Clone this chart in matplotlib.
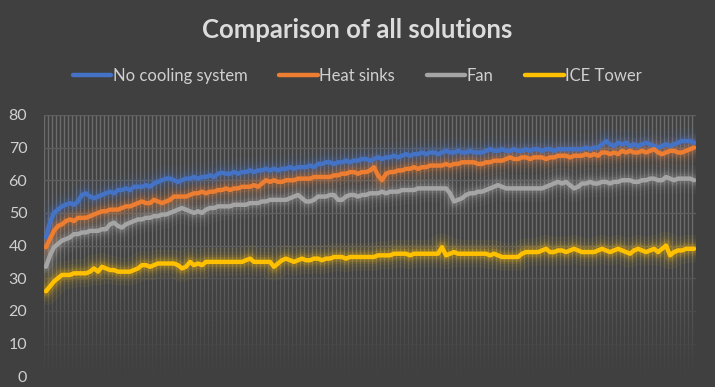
import numpy as np
import matplotlib.pyplot as plt

# temperature readings, one per sample
no_cooling = [
    42.5, 47, 50, 51, 52, 52.5, 53, 52.5, 53.5, 55.5,
    56, 55, 54.5, 55, 55.5, 56, 56.5, 56, 57, 57,
    57.5, 57, 58, 58, 58, 58.5, 58, 59, 59.5, 60,
    60.5, 60.5, 60, 59.5, 60, 60.5, 60.5, 61, 60.5, 61,
    61, 61.5, 61, 62, 62.3, 62, 62, 62.5, 62, 62.5,
    62.5, 63, 62.5, 63, 63, 63.5, 63, 63.5, 63, 63.5,
    63.5, 64, 63.5, 64, 64, 64, 64.5, 64, 65, 65,
    65.5, 65.5, 65, 65.5, 65.5, 66, 65.5, 66, 66, 66.5,
    66.5, 66, 66.5, 67, 66.5, 67, 67, 67.5, 67, 67.5,
    68, 67.5, 68, 68, 68.5, 68, 68.5, 68.5, 68, 68.5,
    69, 68.5, 68.5, 69, 68.5, 68.5, 69, 68.5, 68.5, 68.5,
    69, 69.5, 69, 69, 69.5, 69, 69, 69.5, 69, 69,
    69.5, 69, 69.5, 69.5, 69, 69.5, 69.5, 69, 69.5, 69.5,
    69.5, 69.5, 69.5, 69.5, 69.5, 70, 69.5, 70, 70, 71,
    72, 71, 70.5, 71.5, 71, 71.5, 70.5, 71, 70.5, 71,
    71.5, 71, 70.5, 70, 70.5, 71, 70.5, 71, 71.5, 72,
    72, 72, 71.5,
]
heat_sinks = [
    39.5, 42, 44.5, 46, 46.5, 47.5, 48, 47.5, 48.5, 48.5,
    48.5, 49, 49.5, 50, 50.5, 50.5, 51, 51, 51, 51.5,
    52, 52, 52.5, 53, 53.5, 53, 53, 54, 53.5, 53,
    53.5, 54, 55, 55, 55, 55, 55.5, 56, 56, 56.5,
    56, 56.5, 56.5, 57, 57, 57.5, 57, 57.5, 57.5, 58,
    58, 58, 58.5, 58, 59, 60, 59.5, 60, 59.5, 59.5,
    60, 60, 60, 60.5, 60.5, 60.5, 60.5, 61, 61, 61,
    61, 61, 61.5, 61.5, 62, 62, 62.5, 62.5, 62, 62.5,
    62.5, 63, 64, 61.5, 60, 62, 62.5, 62.5, 63, 63,
    63.5, 63.5, 64, 63.5, 64, 64, 64.5, 64.5, 64.5, 64.5,
    65, 64.5, 65, 65, 65.5, 65.5, 65.5, 65.5, 65, 65,
    65.5, 65.5, 66, 66, 66, 66.5, 67, 66.5, 66.5, 67,
    67, 66.5, 67, 67, 67, 66.5, 67, 67, 67.5, 67.5,
    67.5, 67, 67.5, 67.5, 67.5, 68, 67.5, 68, 67.5, 68.5,
    68.5, 68, 68.5, 68, 69, 68.5, 69, 68.5, 68.5, 69,
    68.5, 69, 69.5, 68.5, 68, 68.5, 69, 69, 68.5, 68.5,
    69, 69.5, 70,
]
fan = [
    33.5, 37, 39.5, 40.5, 41.5, 42, 42.5, 43.5, 43.5, 44,
    44, 44.5, 44.5, 44.5, 45, 45, 46.5, 47, 46, 45.5,
    46.5, 47, 47.5, 48, 48, 48.5, 48.5, 49, 49, 49.5,
    49.5, 50, 50.5, 51, 51.5, 51, 50.5, 50, 50.5, 50,
    51, 51.5, 51.5, 52, 52, 52, 52, 52.5, 52.5, 52.5,
    52.5, 53, 53, 53, 53.5, 53.5, 54, 54, 54, 54,
    54, 54.5, 55, 55.5, 54.5, 53.5, 53.5, 54, 55, 55,
    55, 55.5, 55.5, 54, 54, 55, 55.5, 55.5, 55, 55.5,
    55.5, 56, 56, 56, 56.5, 56, 56.5, 56.5, 56.5, 57,
    57, 57, 57, 57.5, 57.5, 57.5, 57.5, 57.5, 57.5, 57.5,
    57.5, 56, 53.5, 54, 54.5, 55.5, 56, 56, 56.5, 56.5,
    57, 57.5, 58, 58.5, 58, 57.5, 57.5, 57.5, 57.5, 57.5,
    57.5, 57.5, 57.5, 57.5, 57.5, 58, 58.5, 59, 59.5, 59,
    59.5, 58.5, 57.5, 58, 59, 59, 59.5, 59, 59, 59.5,
    59.5, 59, 59.5, 59.5, 60, 60, 60, 59.5, 59.5, 60,
    60, 60.5, 60.5, 60, 60, 61, 60.5, 60, 60.5, 60.5,
    60.5, 60.5, 60,
]
ice_tower = [
    26, 27.5, 29, 30, 31, 31, 31, 31.5, 31.5, 31.5,
    31.5, 32, 33, 32, 33.5, 33, 32.5, 32.5, 32, 32,
    32, 32, 32.5, 33, 34, 34, 33.5, 34, 34.5, 34.5,
    34.5, 34.5, 34.5, 34, 33, 33.5, 35, 34, 34.5, 34,
    35, 35, 35, 35, 35, 35, 35, 35, 35, 35,
    35.5, 36, 35, 35, 35, 35, 35, 33.5, 34.5, 35.5,
    36, 35.5, 35, 35.5, 36, 35.5, 35.5, 36, 36, 35.5,
    36, 36, 36.5, 36.5, 36.5, 36, 36.5, 36.5, 36.5, 36.5,
    36.5, 36.5, 36.5, 37, 37, 37, 37, 37.5, 37.5, 37.5,
    37.5, 37, 37.5, 37.5, 37.5, 37.5, 37.5, 37.5, 37.5, 39.5,
    37, 37.5, 38, 37.5, 37.5, 37.5, 37.5, 37.5, 37.5, 37.5,
    37.5, 37, 37.5, 37, 36.5, 36.5, 36.5, 36.5, 36.5, 37.5,
    38, 38, 38, 38, 38.5, 39, 38, 38, 38.5, 38.5,
    38, 38.5, 39, 38.5, 38, 38, 38, 38, 38.5, 39,
    38.5, 38, 38.5, 39, 38.5, 38, 37.5, 38.5, 39, 38.5,
    38, 38.5, 39, 38, 39, 40, 37, 38, 38.5, 38.5,
    39, 39, 39,
]
labels = ['No cooling system', 'Heat sinks', 'Fan', 'ICE Tower']
colors = ['#4472C4', '#ED7D31', '#A5A5A5', '#FFC000']
yticks = [0, 10, 20, 30, 40, 50, 60, 70, 80]

bg = '#404040'
plt.rcParams['font.family'] = ['Lato', 'DejaVu Sans']

fig = plt.figure(figsize=(7.15, 3.87), dpi=100, facecolor=bg)
ax = fig.add_axes([0.0615, 0.028, 0.912, 0.675], facecolor=bg)

n = len(no_cooling)
x = np.arange(n)

# dense category gridlines, fading out toward the bottom
ax.vlines(x - 0.5, 0, 80, color='#6c6c6c', lw=1.0, zorder=1)
for v in yticks:
    ax.axhline(v, color='#5e5e5e', lw=1.0, zorder=1.5)
fade = np.zeros((100, 2, 4))
fade[..., :3] = np.array([64, 64, 64]) / 255
fade[..., 3] = np.linspace(1, 0, 100)[:, None] ** 0.8
ax.imshow(fade, extent=[-0.5, n - 0.5, 0, 38], origin='lower',
          aspect='auto', zorder=2, interpolation='bilinear')

series = [no_cooling, heat_sinks, fan, ice_tower]
for s, c, lab in zip(series, colors, labels):
    for w, a in [(20, 0.05), (14, 0.07), (10, 0.1), (7, 0.16)]:
        ax.plot(x, s, color=c, lw=w, alpha=a, solid_capstyle='round', zorder=3)
    ax.plot(x, s, color=c, lw=3.2, label=lab, solid_capstyle='round', zorder=4)

ax.set_xlim(-0.5, n - 0.5)
ax.set_ylim(0, 80)
ax.set_yticks(yticks)
ax.set_xticks([])
ax.tick_params(axis='y', length=0, pad=12, labelsize=11.5, labelcolor='#d0d0d0')
for sp in ax.spines.values():
    sp.set_visible(False)

fig.text(0.5, 0.922, 'Comparison of all solutions', ha='center', va='center',
         fontsize=18.5, fontweight='bold', color='#dcdcdc')
fig.legend(loc='center', bbox_to_anchor=(0.5, 0.804), ncol=4, frameon=False,
           fontsize=12, labelcolor='#d0d0d0', handlelength=2.3,
           handletextpad=0.1, columnspacing=1.9)

fig.savefig('out.png', dpi=100, facecolor=bg)
